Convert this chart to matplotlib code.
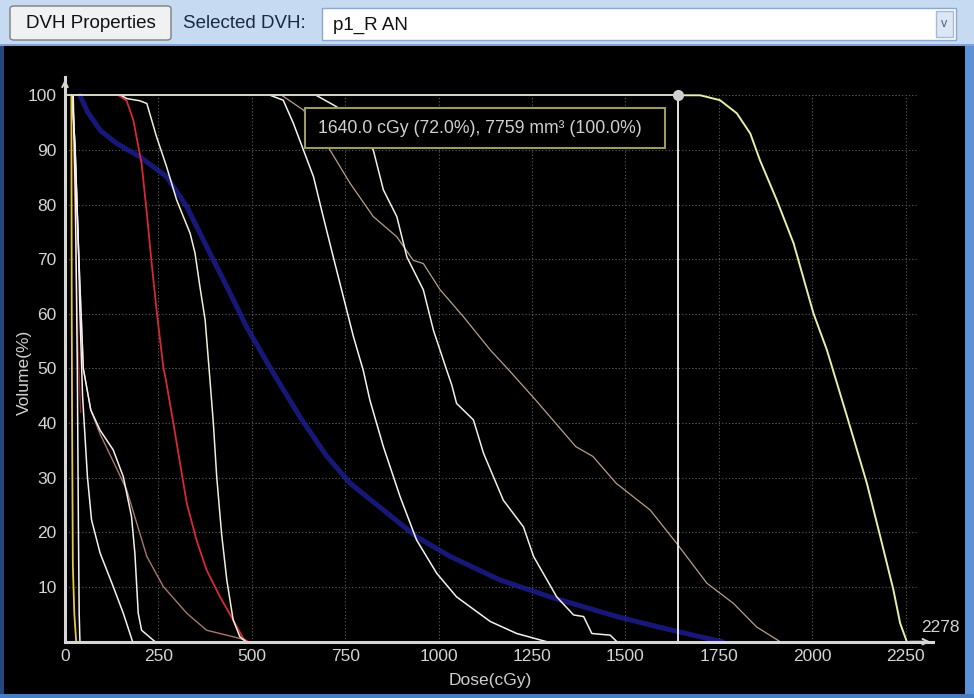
import matplotlib
matplotlib.use('Agg')
import matplotlib.pyplot as plt
from matplotlib.patches import Rectangle, FancyBboxPatch

plt.rcParams['font.family'] = ['Liberation Sans', 'DejaVu Sans']

# DVH curves: dose (cGy) / volume (%)
yellow_dose = [17, 18, 19, 21, 25, 30]
yellow_vol = [100, 60, 40, 14, 5, 0]

spike_dose = [22, 28, 33, 36, 38, 40]
spike_vol = [100, 80, 50, 20, 5, 0]

darkred_dose = [20, 24, 28, 32, 36, 42]
darkred_vol = [100, 88, 74, 62, 52, 42]

a_dose = [18, 27, 36, 40, 47, 60, 71, 94, 129, 156, 181]
a_vol = [100, 90.6, 72.3, 60, 45, 30.2, 22.3, 16.2, 10.1, 5.2, 0]

b_dose = [20, 27, 36, 49, 69, 94, 129, 156, 178, 187, 196, 205, 241]
b_vol = [100, 90, 72, 50, 42.4, 38.7, 35.1, 30.2, 22.9, 16.2, 5.2, 2.1, 0]

brown_dose = [20, 27, 36, 49, 69, 94, 129, 165, 192, 219, 263, 326, 379, 468, 490]
brown_vol = [100, 90, 72, 50, 42.4, 38, 33, 27.8, 21.7, 15.6, 10.1, 5.2, 2.1, 0.6, 0]

red_dose = [143, 165, 183, 205, 219, 232, 246, 263, 270, 290, 308, 326, 352, 379, 415, 450, 477, 490]
red_vol = [100, 99, 95.4, 87.5, 78.4, 69.2, 60.1, 50.3, 47.9, 40, 32.6, 25.3, 18.6, 13.1, 8.2, 4, 0.6, 0]

cream_dose = [150, 165, 200, 219, 245, 272, 299, 335, 348, 361, 375, 388, 397, 406, 419, 433, 450, 468, 485]
cream_vol = [100, 99.4, 99, 98.5, 92.4, 86.9, 80.8, 74.7, 71.1, 65, 58.9, 47.9, 40, 30.2, 19.8, 11.3, 4, 0.9, 0]

blue_dose = [40, 60, 94, 138, 201, 272, 326, 379, 433, 486, 558, 630, 700, 763, 852, 941, 1031,
             1164, 1298, 1477, 1600, 1700, 1760]
blue_vol = [100, 97, 93.6, 91.2, 88.7, 85.1, 79.6, 72.3, 65, 57.6, 49.1, 41, 34, 29, 24.1, 19.2, 15.6,
            11.3, 8.2, 4.6, 2.5, 0.9, 0]

h_dose = [549, 584, 611, 638, 665, 691, 718, 745, 772, 798, 816, 852, 897, 941, 995, 1048, 1138, 1209, 1289]
h_vol = [100, 99.1, 94.9, 90, 85.1, 77.8, 70.4, 63.1, 55.8, 49.7, 44.2, 35.7, 26.5, 18.6, 12.5, 8.2, 3.7, 1.5, 0]

i_dose = [580, 638, 709, 763, 825, 888, 932, 959, 1004, 1066, 1138, 1188, 1260, 1367, 1413, 1475,
          1566, 1637, 1718, 1789, 1851, 1914]
i_vol = [100, 97.3, 90, 83.9, 77.8, 74.1, 69.8, 69.2, 64.4, 59.5, 53.4, 49.7, 44.2, 35.7, 33.9, 29,
         24.1, 18, 10.7, 7, 2.7, 0]

j_dose = [672, 727, 825, 852, 888, 915, 959, 986, 1020, 1035, 1048, 1093, 1120, 1173, 1227, 1254,
          1316, 1361, 1388, 1410, 1459, 1477]
j_vol = [100, 97.9, 90, 82.7, 77.8, 70.4, 64.4, 57, 50, 47, 43.6, 40.6, 34.5, 25.9, 21, 15.6,
         8.2, 4.9, 4.6, 1.5, 1.2, 0]

sel_dose = [1637, 1700, 1753, 1798, 1834, 1860, 1905, 1950, 2003, 2039, 2093, 2146, 2182, 2217, 2235, 2253]
sel_vol = [100, 100, 99.1, 96.7, 93, 88.1, 80.8, 72.9, 60.1, 53.4, 41.2, 29, 19.2, 9.5, 3.4, 0]

cursor_dose = 1640.0
cursor_vol = 100.0
max_dose = 2278
tooltip = "1640.0 cGy (72.0%), 7759 mm\u00b3 (100.0%)"

x_ticks = list(range(0, 2251, 250))
y_ticks = list(range(10, 101, 10))

W, H = 974, 698
fig = plt.figure(figsize=(W / 100, H / 100), dpi=100, facecolor='black')


def fx(x):
    return x / W


def fy(y):
    return 1 - y / H


def box(x0, y0, x1, y1, **kw):
    r = Rectangle((fx(x0), fy(y1)), (x1 - x0) / W, (y1 - y0) / H,
                  transform=fig.transFigure, **kw)
    fig.add_artist(r)
    return r


# window chrome
box(0, 0, 974, 46, facecolor='#c6daf1', edgecolor='none')
box(0, 44, 974, 46, facecolor='#7fa3d3', edgecolor='none')
box(0, 46, 4, 698, facecolor='#24487e', edgecolor='none')
box(965, 46, 974, 698, facecolor='#5c93d8', edgecolor='none')
box(0, 694, 974, 698, facecolor='#4a7cc0', edgecolor='none')

btn = FancyBboxPatch((fx(10), fy(40)), 161 / W, 34 / H, boxstyle='round,pad=0,rounding_size=0.004',
                     transform=fig.transFigure, facecolor='#eff1f3', edgecolor='#7d7d7d', lw=1)
fig.add_artist(btn)
fig.text(fx(91), fy(23), 'DVH Properties', ha='center', va='center', fontsize=13.5, color='#111111')
fig.text(fx(183), fy(23), 'Selected DVH:', ha='left', va='center', fontsize=13.5, color='#1a2a44')
box(322, 8, 956, 40, facecolor='white', edgecolor='#8ea8c8', lw=1)
fig.text(fx(333), fy(25), 'p1_R AN', ha='left', va='center', fontsize=13.5, color='#111111')
box(936, 11, 953, 37, facecolor='#dbe7f5', edgecolor='#a6bad6', lw=1)
fig.text(fx(944.5), fy(24), 'v', ha='center', va='center', fontsize=9, color='#4a5f85')

# plot area
ax = fig.add_axes([fx(65), fy(641.7), (933 - 65) / W, (641.7 - 76.7) / H])
ax.set_facecolor('black')
ax.set_xlim(0, 2323)
ax.set_ylim(0, 103.4)

for x in x_ticks[1:]:
    ax.vlines(x, 0, 100, colors='#5e5e5e', lw=0.8, linestyles=(0, (1, 2)), zorder=1)
for y in y_ticks:
    ax.hlines(y, 0, max_dose, colors='#5e5e5e', lw=0.8, linestyles=(0, (1, 2)), zorder=1)

ax.plot(blue_dose, blue_vol, color='#2020a0', lw=3.6, alpha=0.75, solid_capstyle='round', zorder=2)
ax.plot(darkred_dose, darkred_vol, color='#8a2020', lw=1.0, zorder=3)
ax.plot(brown_dose, brown_vol, color='#a87868', lw=1.0, zorder=3)
ax.plot(a_dose, a_vol, color='#f2f2f2', lw=1.1, zorder=3)
ax.plot(b_dose, b_vol, color='#f4f0f0', lw=1.1, zorder=3)
ax.plot(spike_dose, spike_vol, color='#f4f4f4', lw=1.1, zorder=3)
ax.plot(yellow_dose, yellow_vol, color='#e8c840', lw=1.3, zorder=3)
ax.plot(red_dose, red_vol, color='#d82838', lw=1.3, zorder=3)
ax.plot(cream_dose, cream_vol, color='#f0eed8', lw=1.1, zorder=3)
ax.plot(h_dose, h_vol, color='#f4f4f4', lw=1.1, zorder=3)
ax.plot(i_dose, i_vol, color='#b8a088', lw=0.9, zorder=3)
ax.plot(j_dose, j_vol, color='#f0f0e0', lw=1.1, zorder=3)
ax.plot(sel_dose, sel_vol, color='#e6efa6', lw=1.4, zorder=3)

# cursor crosshair
ax.hlines(cursor_vol, 0, cursor_dose, colors='#d8d8c8', lw=1.4, zorder=4)
ax.vlines(cursor_dose, 0, cursor_vol, colors='#e4e4e4', lw=1.4, zorder=4)
ax.plot([cursor_dose], [cursor_vol], 'o', color='#d0d0d0', ms=7, zorder=5, clip_on=False)

# tooltip
ax.add_patch(Rectangle((642, 90.3), 964, 7.4, facecolor='black', edgecolor='#9c9a60', lw=1.5, zorder=6))
ax.text(677, 94.0, tooltip, ha='left', va='center', fontsize=12.7, color='#d0d0d0', zorder=7)

for s in ['top', 'right']:
    ax.spines[s].set_visible(False)
for s in ['left', 'bottom']:
    ax.spines[s].set_color('#d6d6d6')
    ax.spines[s].set_linewidth(2.2)
    ax.spines[s].set_zorder(8)
ax.annotate('', xy=(0, 1.0), xytext=(0, 0.97), xycoords='axes fraction',
            arrowprops=dict(arrowstyle='->', color='#d6d6d6', lw=1.4))
ax.annotate('', xy=(1.0, 0), xytext=(0.97, 0), xycoords='axes fraction',
            arrowprops=dict(arrowstyle='->', color='#d6d6d6', lw=1.4))

ax.set_xticks(x_ticks)
ax.set_yticks(y_ticks)
ax.tick_params(length=0, colors='#d4d4d4', labelsize=12.5)
ax.tick_params(axis='x', pad=5)
ax.tick_params(axis='y', pad=6)

ax.text(1.008, 0.012, str(max_dose), transform=ax.transAxes, ha='center', va='bottom',
        fontsize=12.5, color='#d4d4d4')
fig.text(fx(490), fy(681), 'Dose(cGy)', ha='center', va='center', fontsize=12.5, color='#d0d0d0')
fig.text(fx(24), fy(372), 'Volume(%)', ha='center', va='center', rotation=90, fontsize=12.5, color='#d0d0d0')

fig.savefig('out.png', dpi=100, facecolor='black')
